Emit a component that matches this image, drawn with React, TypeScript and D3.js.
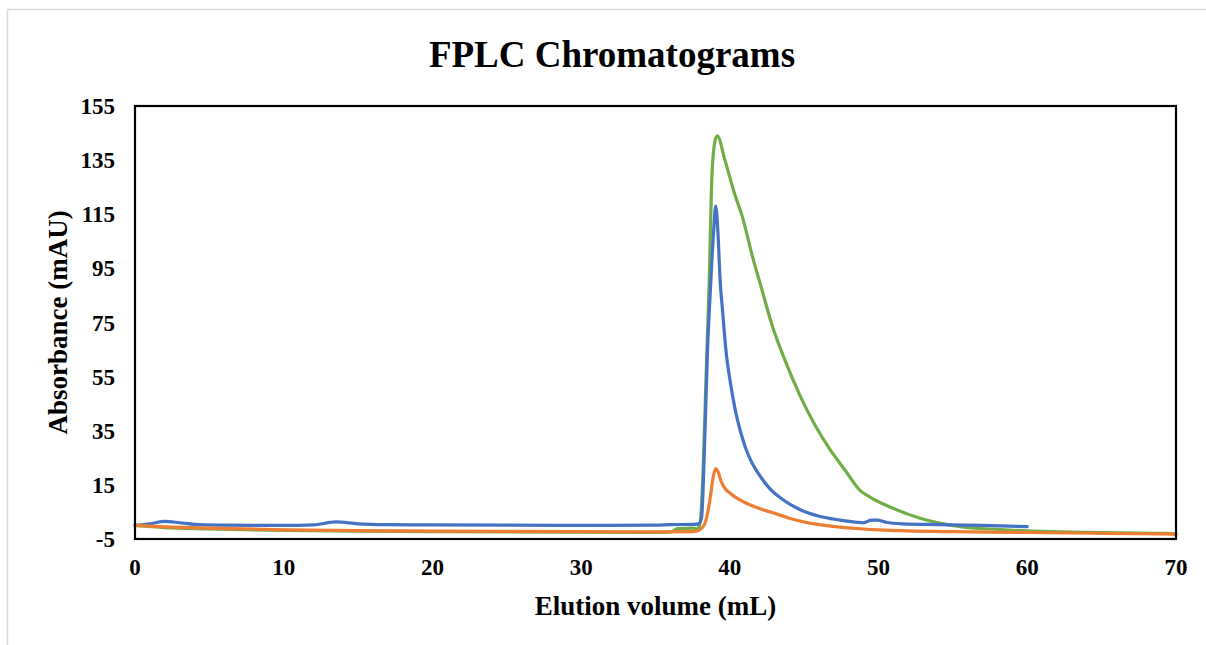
import React from "react";
import * as d3 from "d3";

// ---- data (volume mL, absorbance mAU) ----
const blueX = [0, 1, 2, 3, 4, 6, 8, 10, 12, 13.5, 15, 17, 20, 25, 30, 35, 36, 37.5, 37.9, 38.1, 38.3, 38.5, 38.7, 38.9, 39.05, 39.2, 39.35, 39.5, 39.75, 40.0, 40.35, 40.7, 41.1, 41.5, 42.0, 42.7, 43.5, 44.7, 46.0, 47.4, 48.5, 49.0, 49.5, 49.9, 50.5, 51.6, 54, 57, 60];
const blueY = [0, 0.6, 1.5, 1.0, 0.4, 0.1, 0.0, 0.0, 0.2, 1.3, 0.6, 0.3, 0.2, 0.1, 0.0, 0.1, 0.3, 0.4, 0.6, 3, 30, 65, 88, 108, 118, 108, 90, 80, 64, 54, 43, 35, 28, 23, 18.5, 13.5, 9.8, 5.9, 3.4, 2.0, 1.2, 1.0, 2.0, 2.0, 1.2, 0.6, 0.3, 0.0, -0.4];

const orangeX = [0, 2, 5, 10, 15, 20, 25, 30, 35, 37.5, 38.0, 38.3, 38.5, 38.7, 38.85, 39.05, 39.2, 39.4, 39.7, 40.0, 40.5, 41.0, 41.8, 43.0, 44.0, 45.0, 46.0, 47.4, 49.0, 50.0, 52.0, 55.0, 60.0, 65.0, 70.0];
const orangeY = [0, -0.5, -1.0, -1.6, -1.9, -2.1, -2.2, -2.3, -2.4, -2.3, -1.5, 0.5, 4.5, 11, 17, 21, 20, 16.5, 13.5, 12, 10, 8.5, 6.6, 4.5, 2.7, 1.3, 0.3, -0.6, -1.3, -1.6, -2.0, -2.3, -2.6, -2.9, -3.2];

const greenX = [0, 2, 5, 10, 15, 20, 25, 30, 35, 36, 36.5, 37.5, 37.8, 38.0, 38.2, 38.4, 38.6, 38.8, 39.0, 39.15, 39.67, 40.35, 40.82, 41.49, 42.16, 42.84, 43.71, 44.72, 45.73, 46.74, 47.74, 48.75, 49.42, 50.77, 52.79, 55.48, 58.17, 61.53, 64.0, 66.0, 68.5, 70.0];
const greenY = [0, -0.8, -1.3, -1.8, -2.1, -2.3, -2.4, -2.5, -2.6, -2.4, -1.2, -1.0, -1.3, 1, 20, 55, 88, 130, 142, 144, 135, 122, 114.5, 100, 87, 74, 61, 48, 37, 28, 20.5, 13, 10.5, 6.8, 2.7, -0.4, -1.5, -2.3, -2.5, -2.7, -2.9, -3.0];

const xTicks = [0, 10, 20, 30, 40, 50, 60, 70];
const yTicks = [-5, 15, 35, 55, 75, 95, 115, 135, 155];

const seriesOrder = [
  { name: "green", xs: greenX, ys: greenY, color: "#70AD47" },
  { name: "blue", xs: blueX, ys: blueY, color: "#4472C4" },
  { name: "orange", xs: orangeX, ys: orangeY, color: "#ED7D31" },
];

const W = 1206;
const H = 645;
const plot = { left: 135, right: 1176, top: 106, bottom: 539 };
const FONT = "'Liberation Serif', 'Times New Roman', serif";

export default function App() {
  const x = d3.scaleLinear().domain([0, 70]).range([plot.left, plot.right]);
  const y = d3.scaleLinear().domain([-5, 155]).range([plot.bottom, plot.top]);
  const line = d3
    .line<[number, number]>()
    .x((d) => x(d[0]))
    .y((d) => y(d[1]))
    .curve(d3.curveMonotoneX);

  return (
    <svg
      width={W}
      height={H}
      style={{ position: "absolute", left: 0, top: 0, background: "#fff" }}
    >
      <rect x={0} y={0} width={W} height={H} fill="#fff" />
      <rect x={7.5} y={9.5} width={W + 20} height={H + 20} fill="none" stroke="#d9d9d9" strokeWidth={1.5} />
      <text
        x={612}
        y={67}
        textAnchor="middle"
        fontFamily={FONT}
        fontWeight="bold"
        fontSize={37}
        fill="#000"
      >
        FPLC Chromatograms
      </text>
      {seriesOrder.map((s) => (
        <path
          key={s.name}
          d={line(s.xs.map((v, i) => [v, s.ys[i]] as [number, number])) || ""}
          fill="none"
          stroke={s.color}
          strokeWidth={3.2}
          strokeLinejoin="round"
          strokeLinecap="round"
        />
      ))}
      <rect
        x={plot.left}
        y={plot.top}
        width={plot.right - plot.left}
        height={plot.bottom - plot.top}
        fill="none"
        stroke="#000"
        strokeWidth={2.2}
      />
      {yTicks.map((t) => (
        <text
          key={"y" + t}
          x={115}
          y={y(t)}
          dy="0.35em"
          textAnchor="end"
          fontFamily={FONT}
          fontWeight="bold"
          fontSize={23}
          fill="#000"
        >
          {t}
        </text>
      ))}
      {xTicks.map((t) => (
        <text
          key={"x" + t}
          x={x(t)}
          y={575}
          textAnchor="middle"
          fontFamily={FONT}
          fontWeight="bold"
          fontSize={23}
          fill="#000"
        >
          {t}
        </text>
      ))}
      <text
        x={(plot.left + plot.right) / 2}
        y={615}
        textAnchor="middle"
        fontFamily={FONT}
        fontWeight="bold"
        fontSize={27}
        fill="#000"
      >
        Elution volume (mL)
      </text>
      <text
        transform={`translate(67, ${(plot.top + plot.bottom) / 2}) rotate(-90)`}
        textAnchor="middle"
        fontFamily={FONT}
        fontWeight="bold"
        fontSize={27}
        fill="#000"
      >
        Absorbance (mAU)
      </text>
    </svg>
  );
}
